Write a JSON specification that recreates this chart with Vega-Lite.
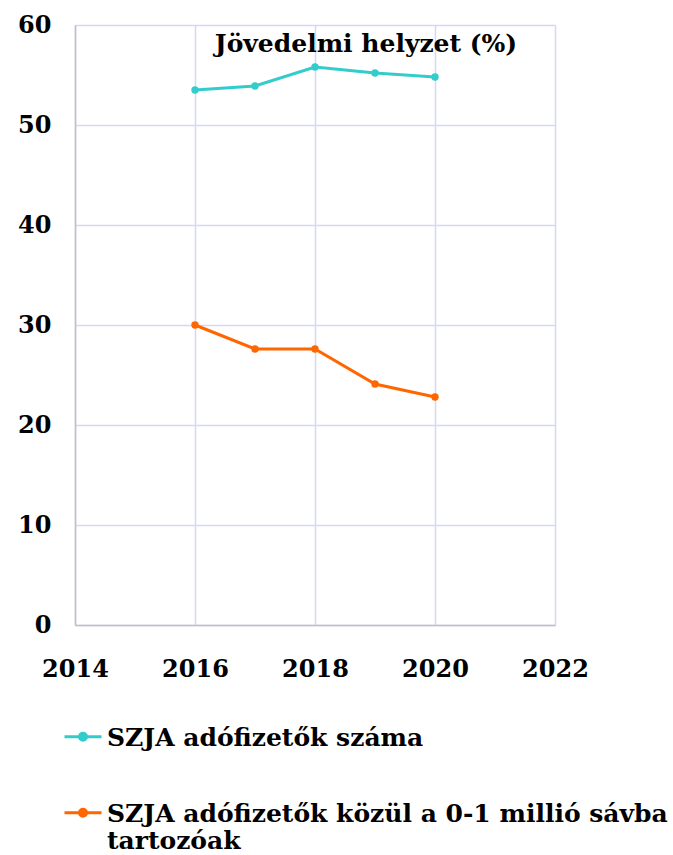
{
  "$schema": "https://vega.github.io/schema/vega-lite/v6.json",
  "width": 480,
  "height": 600,
  "autosize": "none",
  "padding": {"left": 75, "top": 25, "right": 118, "bottom": 230},
  "background": "white",
  "config": {
    "font": "DejaVu Serif",
    "view": {"stroke": null}
  },
  "layer": [
    {
      "data": {
        "values": [
          {"year": 2016, "value": 53.5, "series": "SZJA adófizetők száma"},
          {"year": 2017, "value": 53.9, "series": "SZJA adófizetők száma"},
          {"year": 2018, "value": 55.8, "series": "SZJA adófizetők száma"},
          {"year": 2019, "value": 55.2, "series": "SZJA adófizetők száma"},
          {"year": 2020, "value": 54.8, "series": "SZJA adófizetők száma"},
          {"year": 2016, "value": 30.0, "series": "SZJA adófizetők közül a 0-1 millió sávba tartozóak"},
          {"year": 2017, "value": 27.6, "series": "SZJA adófizetők közül a 0-1 millió sávba tartozóak"},
          {"year": 2018, "value": 27.6, "series": "SZJA adófizetők közül a 0-1 millió sávba tartozóak"},
          {"year": 2019, "value": 24.1, "series": "SZJA adófizetők közül a 0-1 millió sávba tartozóak"},
          {"year": 2020, "value": 22.8, "series": "SZJA adófizetők közül a 0-1 millió sávba tartozóak"}
        ]
      },
      "mark": {"type": "line", "strokeWidth": 3, "point": {"size": 55, "filled": true}},
      "encoding": {
        "x": {
          "field": "year",
          "type": "quantitative",
          "scale": {"domain": [2014, 2022], "nice": false, "zero": false},
          "axis": {
            "title": null,
            "values": [2014, 2016, 2018, 2020, 2022],
            "format": "d",
            "grid": true,
            "gridColor": "#d6d6fa",
            "gridWidth": 1.5,
            "domainColor": "#c0c0c0",
            "domainWidth": 1.5,
            "ticks": false,
            "labelFont": "DejaVu Serif",
            "labelFontSize": 24,
            "labelFontWeight": "bold",
            "labelColor": "#000000",
            "labelBaseline": "middle",
            "labelPadding": 44,
            "labelFlush": false
          }
        },
        "y": {
          "field": "value",
          "type": "quantitative",
          "scale": {"domain": [0, 60], "nice": false},
          "axis": {
            "title": null,
            "values": [0, 10, 20, 30, 40, 50, 60],
            "grid": true,
            "gridColor": "#d6d6fa",
            "gridWidth": 1.5,
            "domainColor": "#c0c0c0",
            "domainWidth": 1.5,
            "ticks": false,
            "labelFont": "DejaVu Serif",
            "labelFontSize": 24,
            "labelFontWeight": "bold",
            "labelColor": "#000000",
            "labelPadding": 24,
            "labelBaseline": "middle",
            "labelDy": 2,
            "labelFlush": false
          }
        },
        "color": {
          "field": "series",
          "type": "nominal",
          "sort": ["SZJA adófizetők száma", "SZJA adófizetők közül a 0-1 millió sávba tartozóak"],
          "scale": {
            "domain": ["SZJA adófizetők száma", "SZJA adófizetők közül a 0-1 millió sávba tartozóak"],
            "range": ["#33cccc", "#ff6600"]
          },
          "legend": {
            "title": null,
            "orient": "none",
            "legendX": -12,
            "legendY": 681,
            "direction": "vertical",
            "symbolType": "M-1,0.58H1M-0.19,0.58A0.19,0.19 0 1,1 0.19,0.58A0.19,0.19 0 1,1 -0.19,0.58",
            "symbolSize": 1369,
            "symbolStrokeWidth": 3,
            "labelFont": "DejaVu Serif",
            "labelFontSize": 25,
            "labelFontWeight": "bold",
            "labelColor": "#000000",
            "labelLimit": 700,
            "labelOffset": 4,
            "labelBaseline": "top",
            "labelLineHeight": 33,
            "rowPadding": 31,
            "labelExpr": "datum.label == 'SZJA adófizetők közül a 0-1 millió sávba tartozóak' ? ['SZJA adófizetők közül a 0-1 millió sávba', 'tartozóak'] : datum.label"
          }
        }
      }
    },
    {
      "data": {"values": [{"label": "Jövedelmi helyzet (%)"}]},
      "mark": {
        "type": "text",
        "font": "DejaVu Serif",
        "fontSize": 25,
        "fontWeight": "bold",
        "color": "#000000",
        "align": "center",
        "baseline": "middle"
      },
      "encoding": {
        "text": {"field": "label", "type": "nominal"},
        "x": {"datum": 2018.85, "type": "quantitative"},
        "y": {"datum": 58.1, "type": "quantitative"}
      }
    }
  ]
}
